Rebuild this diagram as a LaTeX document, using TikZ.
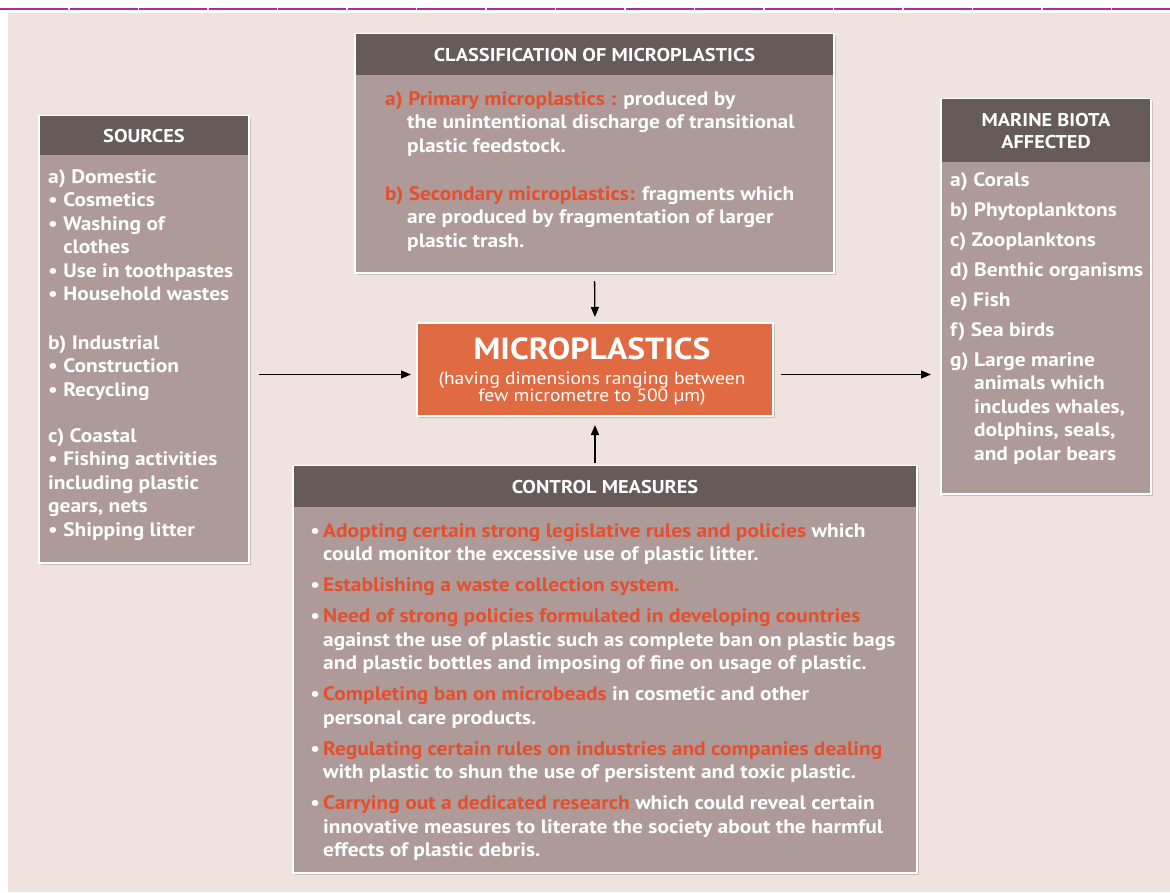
\documentclass[tikz,border=0pt]{standalone}
\usepackage{fontspec}
\setmainfont{PT Sans}[FakeStretch=1.1]
\usetikzlibrary{positioning,shadows,arrows.meta}

\definecolor{bgpink}{HTML}{EFE2DF}
\definecolor{headgray}{HTML}{675B59}
\definecolor{bodygray}{HTML}{AD9A99}
\definecolor{mpred}{HTML}{E4502D}
\definecolor{mporange}{HTML}{E06B43}
\definecolor{rulepurple}{HTML}{A82AA8}

\tikzset{
  box/.style={draw=white, line width=2pt, fill=bodygray, inner sep=0pt, anchor=north west,
    drop shadow={shadow xshift=2pt, shadow yshift=-2pt, opacity=0.35, fill=gray}},
  head/.style={fill=headgray, text=white, font=\bfseries\fontsize{18.5}{22}\selectfont,
    inner sep=0pt, anchor=north, align=center},
  bodytxt/.style={text=white, font=\bfseries\fontsize{19.5}{23.5}\selectfont,
    inner sep=0pt, anchor=north west, align=left},
  flow/.style={-{Triangle[length=10pt,width=8pt]}, line width=1.3pt, black},
}
\newcommand{\hot}[1]{\textcolor{mpred}{#1}}
\newcommand{\dotitem}{\llap{\textbullet\,}}

\begin{document}
\begin{tikzpicture}[x=1pt,y=-1pt]
  \useasboundingbox (0,0) rectangle (1170,892);
  % background and top rule
  \fill[bgpink] (8,13) rectangle (1170,892);
  \draw[rulepurple, line width=2pt, dash pattern=on 68pt off 1.5pt] (0,9) -- (1170,9);

  % sources
  \node[box, minimum width=210pt, minimum height=447pt] (src) at (38,115) {};
  \node[head, minimum width=208pt, minimum height=39pt] (srchd) at ([yshift=-1pt]src.north) {SOURCES};
  \node[bodytxt] (srctxt) at (48,169) {a) Domestic\\
    \textbullet\ Cosmetics\\
    \textbullet\ Washing of\\
    \phantom{\textbullet\ }clothes\\
    \textbullet\ Use in toothpastes\\
    \textbullet\ Household wastes\\[25pt]
    b) Industrial\\
    \textbullet\ Construction\\
    \textbullet\ Recycling\\[22.5pt]
    c) Coastal\\
    \textbullet\ Fishing activities\\
    including plastic\\
    gears, nets\\
    \textbullet\ Shipping litter};

  % classification
  \node[box, minimum width=479pt, minimum height=239pt] (cls) at (354,33) {};
  \node[head, minimum width=477pt, minimum height=41pt] (clshd) at ([yshift=-1pt]cls.north) {CLASSIFICATION OF MICROPLASTICS};
  \node[bodytxt] (clstxt) at (385,91) {\hot{a) Primary microplastics :} produced by\\
    \hspace*{22pt}the unintentional discharge of transitional\\
    \hspace*{22pt}plastic feedstock.\\[24.5pt]
    \hot{b) Secondary microplastics:} fragments which\\
    \hspace*{22pt}are produced by fragmentation of larger\\
    \hspace*{22pt}plastic trash.};

  % microplastics
  \node[box, fill=mporange, minimum width=356pt, minimum height=93pt] (micro) at (416,322) {};
  \node[text=white, font=\bfseries\fontsize{30.5}{31}\selectfont, inner sep=0pt] (microtitle) at (592,349) {MICROPLASTICS};
  \node[text=white, font=\fontsize{17.7}{17}\selectfont, inner sep=0pt, align=center] (microsub) at (592,389)
    {(having dimensions ranging between\\few micrometre to 500 µm)};

  % marine biota
  \node[box, minimum width=210pt, minimum height=395pt] (marine) at (940,98) {};
  \node[head, minimum width=208pt, minimum height=63pt] (marinehd) at ([yshift=-1pt]marine.north) {MARINE BIOTA\\AFFECTED};
  \node[bodytxt] (marinetxt) at (950,172) {a) Corals\\[6.5pt]
    b) Phytoplanktons\\[6.5pt]
    c) Zooplanktons\\[6.5pt]
    d) Benthic organisms\\[6.5pt]
    e) Fish\\[6.5pt]
    f) Sea birds\\[6.5pt]
    g) Large marine\\
    \phantom{g) }animals which\\
    \phantom{g) }includes whales,\\
    \phantom{g) }dolphins, seals,\\
    \phantom{g) }and polar bears};

  % control measures
  \node[box, minimum width=624pt, minimum height=407pt] (ctrl) at (292,465) {};
  \node[head, minimum width=622pt, minimum height=41pt] (ctrlhd) at ([yshift=-1pt]ctrl.north) {CONTROL MEASURES};
  \node[bodytxt] (ctrltxt) at (323,523) {\dotitem\hot{Adopting certain strong legislative rules and policies} which\\
    could monitor the excessive use of plastic litter.\\[7.5pt]
    \dotitem\hot{Establishing a waste collection system.}\\[7.5pt]
    \dotitem\hot{Need of strong policies formulated in developing countries}\\
    against the use of plastic such as complete ban on plastic bags\\
    and plastic bottles and imposing of fine on usage of plastic.\\[7.5pt]
    \dotitem\hot{Completing ban on microbeads} in cosmetic and other\\
    personal care products.\\[7.5pt]
    \dotitem\hot{Regulating certain rules on industries and companies dealing}\\
    with plastic to shun the use of persistent and toxic plastic.\\[7.5pt]
    \dotitem\hot{Carrying out a dedicated research} which could reveal certain\\
    innovative measures to literate the society about the harmful\\
    effects of plastic debris.};

  % arrows
  \draw[flow, shorten <=9pt, shorten >=5pt] ([yshift=-5pt]src.east |- micro.west) -- ([yshift=-5pt]micro.west);
  \draw[flow, shorten <=7pt, shorten >=9pt] ([yshift=-5pt]micro.east) -- ([yshift=-5pt]micro.east -| marine.west);
  \draw[flow, shorten <=7pt, shorten >=5pt] (cls.south) -- (micro.north);
  \draw[flow, shorten <=2pt, shorten >=8pt] (ctrl.north -| micro.south) -- (micro.south);
\end{tikzpicture}
\end{document}
